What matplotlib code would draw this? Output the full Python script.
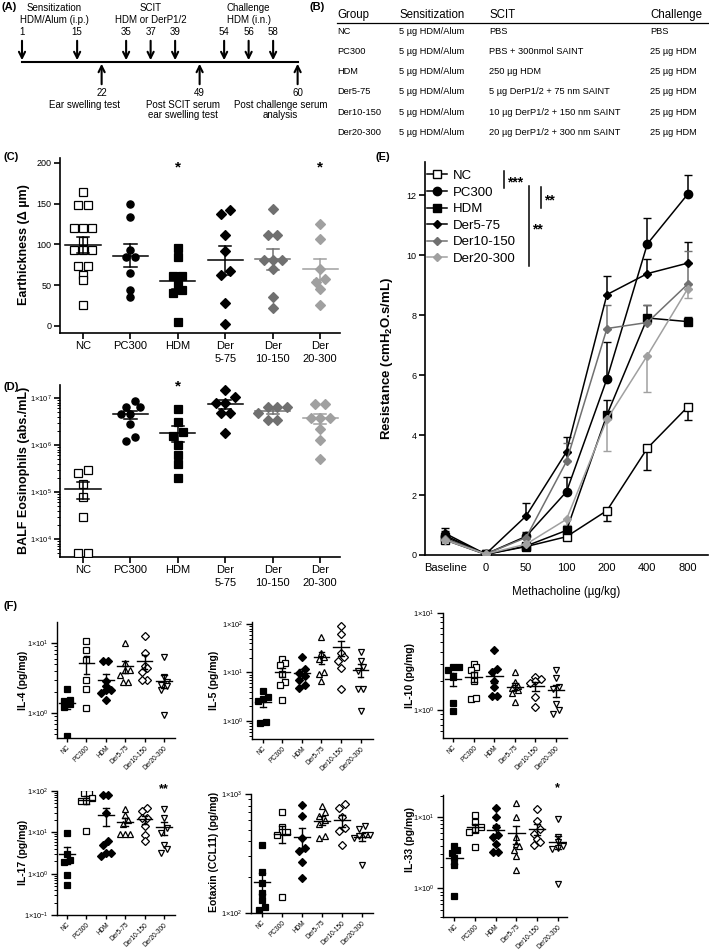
import numpy as np
import matplotlib
matplotlib.use('Agg')
import matplotlib.pyplot as plt
from matplotlib.ticker import LogLocator, FuncFormatter, NullFormatter
from matplotlib.lines import Line2D

plt.rcParams['font.family'] = ['Liberation Sans', 'DejaVu Sans']
plt.rcParams['mathtext.fontset'] = 'custom'
plt.rcParams['mathtext.rm'] = 'Liberation Sans'
plt.rcParams['mathtext.bf'] = 'Liberation Sans:bold'
plt.rcParams['mathtext.it'] = 'Liberation Sans:italic'

W, H = 709, 950

# ── data ────────────────────────────────────────────────────────────────────
days = [1, 15, 22, 35, 37, 39, 49, 54, 56, 58, 60]
dose_days = [1, 15, 35, 37, 39, 54, 56, 58]
test_days = [22, 49, 60]
phases = ['Sensitization\nHDM/Alum (i.p.)', 'SCIT\nHDM or DerP1/2', 'Challenge\nHDM (i.n.)']
phase_days = [[1, 15], [35, 37, 39], [54, 56, 58]]
tests = ['Ear swelling test', 'Post SCIT serum\near swelling test',
         'Post challenge serum\nanalysis']

table_cols = ['Group', 'Sensitization', 'SCIT', 'Challenge']
groups = ['NC', 'PC300', 'HDM', 'Der5-75', 'Der10-150', 'Der20-300']
sensitization = ['5 µg HDM/Alum'] * 6
scit = ['PBS', 'PBS + 300nmol SAINT', '250 µg HDM', '5 µg DerP1/2 + 75 nm SAINT',
        '10 µg DerP1/2 + 150 nm SAINT', '20 µg DerP1/2 + 300 nm SAINT']
challenge = ['PBS'] + ['25 µg HDM'] * 5

cd_labels = ['NC', 'PC300', 'HDM', 'Der\n5-75', 'Der\n10-150', 'Der\n20-300']

ear_thickness = [
    [164, 148, 148, 120, 120, 120, 104, 93, 93, 93, 74, 74, 63, 56, 26],
    [150, 134, 93, 85, 85, 65, 44, 35],
    [96, 85, 61, 61, 51, 44, 41, 5],
    [142, 137, 112, 92, 68, 63, 28, 2],
    [143, 112, 112, 81, 81, 81, 70, 35, 22],
    [125, 107, 70, 58, 54, 45, 26],
]
eosinophils = [
    [3e5, 2.5e5, 1.5e5, 8e4, 3e4, 5e3, 5e3],
    [8.5e6, 6.5e6, 6.3e6, 4.6e6, 4.6e6, 2.8e6, 1.5e6, 1.2e6],
    [5.8e6, 3.1e6, 1.9e6, 1.55e6, 1e6, 6e5, 4e5, 2e5],
    [1.5e7, 1.07e7, 7.7e6, 7.7e6, 4.8e6, 4.8e6, 1.8e6],
    [6.5e6, 6.5e6, 6.5e6, 4.9e6, 3.4e6, 3.4e6],
    [7.5e6, 7.5e6, 3.7e6, 3.7e6, 3.7e6, 2.2e6, 1.3e6, 5e5],
]

mch_doses = ['Baseline', '0', '50', '100', '200', '400', '800']
res_nc = [0.50, 0.02, 0.28, 0.61, 1.48, 3.56, 4.94]
res_pc300 = [0.65, 0.03, 0.62, 2.11, 5.87, 10.37, 12.03]
res_hdm = [0.60, 0.02, 0.30, 0.82, 4.67, 7.90, 7.78]
res_der5 = [0.72, 0.03, 1.30, 3.44, 8.68, 9.38, 9.73]
res_der10 = [0.55, 0.03, 0.58, 3.12, 7.55, 7.75, 9.03]
res_der20 = [0.50, 0.03, 0.36, 1.19, 4.52, 6.65, 8.88]
sem_nc = [0.10, 0.0, 0.05, 0.10, 0.33, 0.73, 0.44]
sem_pc300 = [0.15, 0.0, 0.15, 0.50, 1.24, 0.85, 0.63]
sem_hdm = [0.10, 0.0, 0.05, 0.15, 0.50, 0.45, 0.17]
sem_der5 = [0.17, 0.0, 0.44, 0.50, 0.63, 0.48, 0.71]
sem_der10 = [0.10, 0.0, 0.15, 0.60, 0.80, 0.58, 1.10]
sem_der20 = [0.10, 0.0, 0.10, 0.20, 1.06, 1.23, 0.30]

f_labels = ['NC', 'PC300', 'HDM', 'Der5-75', 'Der10-150', 'Der20-300']
il4 = [
    [2.2, 1.55, 1.5, 1.35, 1.2, 0.47],
    [10.7, 7.9, 5.7, 2.96, 2.18, 1.19],
    [5.5, 5.5, 2.9, 2.43, 2.13, 2.13, 1.91, 1.53],
    [10.1, 5.2, 4.1, 4.1, 3.5, 2.8, 2.8],
    [12.6, 7.1, 4.7, 4.35, 3.9, 2.96, 2.96],
    [6.3, 3.3, 2.8, 2.5, 2.4, 2.1, 0.94],
]
il5 = [
    [4.2, 3.2, 2.8, 2.6, 0.92, 0.95],
    [18.7, 15.5, 14, 9.3, 6.5, 5.5, 2.7],
    [20.5, 11.6, 9.9, 8.5, 7.0, 5.5, 4.7],
    [54.7, 24.8, 21, 18.7, 10.4, 9.3, 6.8],
    [90.8, 61.3, 24.8, 21, 17.3, 12.6, 4.5],
    [26.9, 17.5, 13.1, 10.9, 4.5, 4.5, 1.6],
]
il10 = [
    [2.8, 2.8, 2.6, 2.2, 1.17, 0.98],
    [3.0, 2.8, 2.6, 2.3, 2.0, 1.3, 1.32],
    [4.2, 2.65, 2.45, 1.97, 1.72, 1.4, 1.4],
    [2.45, 1.93, 1.75, 1.68, 1.62, 1.49, 1.22],
    [2.19, 2.09, 1.97, 1.9, 1.36, 1.08],
    [2.57, 2.14, 1.72, 1.65, 1.15, 1.0, 0.91],
]
il17 = [
    [9.7, 3.0, 2.2, 1.9, 0.95, 0.54],
    [90, 90, 68, 56, 56, 10.6],
    [81.5, 81.5, 29.4, 6.05, 5.0, 3.17, 3.17, 2.73],
    [36.9, 26.8, 20.3, 15.9, 9.1, 9.1, 9.1],
    [39, 33.5, 22.4, 22, 14, 8.8, 6.3],
    [37.5, 22.4, 12.8, 9.7, 5.0, 4.0, 3.17],
]
eotaxin = [
    [372, 222, 178, 146, 129, 113, 106],
    [702, 530, 482, 482, 452, 137],
    [809, 657, 429, 354, 331, 266, 198],
    [800, 700, 650, 600, 560, 440, 430],
    [818, 766, 644, 520, 488, 374],
    [538, 505, 452, 452, 440, 429, 253],
]
il33 = [
    [3.98, 3.5, 3.15, 2.65, 2.14, 0.78],
    [10.7, 8.5, 7.2, 6.65, 6.2, 3.85],
    [13.6, 9.9, 7.2, 5.6, 5.2, 4.2, 3.2, 3.2],
    [16, 9.9, 5.2, 4.2, 3.98, 3.5, 2.82, 1.84],
    [12.9, 8.9, 6.8, 5.8, 4.9, 4.5, 4.07],
    [9.4, 5.3, 4.5, 3.9, 3.7, 3.6, 1.16],
]

# ── helpers ─────────────────────────────────────────────────────────────────
fig = plt.figure(figsize=(W / 100, H / 100), dpi=100)


def px_axes(l, t, r, b):
    return fig.add_axes([l / W, 1 - b / H, (r - l) / W, (b - t) / H])


def style(ax, lw=1.2):
    for s in ['top', 'right']:
        ax.spines[s].set_visible(False)
    for s in ['left', 'bottom']:
        ax.spines[s].set_linewidth(lw)
    ax.tick_params(direction='out', length=4, width=lw, pad=2)
    ax.tick_params(which='minor', direction='out', length=2, width=0.7)
    ax.patch.set_alpha(0)


def spread(vals, tol, step, log=False):
    v = np.log10(vals) if log else np.asarray(vals, float)
    order = np.argsort(v)
    offs = np.zeros(len(v))
    i = 0
    while i < len(order):
        j = i
        while j + 1 < len(order) and v[order[j + 1]] - v[order[i]] < tol:
            j += 1
        n = j - i + 1
        offs[order[i:j + 1]] = (np.arange(n) - (n - 1) / 2) * step
        i = j + 1
    return offs


def dotplot(ax, data, styles, tol, step, log=False, ms=5, mw=0.37, cw=0.13, lw=1.1):
    for i, (vals, (mk, fc, ec, lc)) in enumerate(zip(data, styles)):
        vals = np.asarray(vals, float)
        x = i + spread(vals, tol, step, log)
        ax.plot(x, vals, ls='none', marker=mk, ms=ms, mfc=fc, mec=ec, mew=0.9, zorder=3)
        m = vals.mean()
        s = vals.std(ddof=1) / np.sqrt(len(vals))
        lo = max(m - s, m * 0.05)
        ax.plot([i - mw, i + mw], [m, m], color=lc, lw=lw, zorder=4)
        ax.plot([i, i], [lo, m + s], color=lc, lw=lw, zorder=4)
        ax.plot([i - cw, i + cw], [m + s] * 2, color=lc, lw=lw, zorder=4)
        ax.plot([i - cw, i + cw], [lo] * 2, color=lc, lw=lw, zorder=4)


def sci(v, _):
    return r'$1{\times}10^{%d}$' % round(np.log10(v))


def log_axis(ax, fs=5.5):
    ax.set_yscale('log')
    ax.yaxis.set_major_locator(LogLocator(base=10, numticks=20))
    ax.yaxis.set_minor_locator(LogLocator(base=10, subs=np.arange(2, 10), numticks=20))
    ax.yaxis.set_major_formatter(FuncFormatter(sci))
    ax.yaxis.set_minor_formatter(NullFormatter())
    ax.tick_params(axis='y', labelsize=fs)


# overlay in pixel coordinates for annotations
ov = fig.add_axes([0, 0, 1, 1], zorder=10)
ov.set_xlim(0, W)
ov.set_ylim(H, 0)
ov.axis('off')
ov.patch.set_alpha(0)


def label(x, y, s):
    ov.text(x, y, s, fontsize=8, fontweight='bold', ha='left', va='center')


# ── (A) timeline ────────────────────────────────────────────────────────────
label(1, 7, '(A)')
tx = {d: 22 + 24.5 * (0 if i == 0 else i + 1.25) for i, d in enumerate(days)}
ov.plot([tx[days[0]], tx[days[-1]]], [62, 62], color='k', lw=1.5)
for d in dose_days:
    ov.annotate('', xy=(tx[d], 63), xytext=(tx[d], 38),
                arrowprops=dict(arrowstyle='->', color='k', lw=1.5, mutation_scale=11))
    ov.text(tx[d], 32, str(d), fontsize=7, ha='center', va='center')
for d in test_days:
    ov.annotate('', xy=(tx[d], 61), xytext=(tx[d], 87),
                arrowprops=dict(arrowstyle='->', color='k', lw=1.5, mutation_scale=11))
    ov.text(tx[d], 93, str(d), fontsize=7, ha='center', va='center')
for name, pd_ in zip(phases, phase_days):
    cx = np.mean([tx[d] for d in pd_]) + (5 if pd_[0] == 1 else 0)
    ov.text(cx, 14, name, fontsize=7, ha='center', va='center', linespacing=1.25)
for name, d in zip(tests, test_days):
    ov.text(tx[d] - 17, 100, name, fontsize=7, ha='center', va='top', linespacing=1.05)

# ── (B) table ───────────────────────────────────────────────────────────────
label(309, 7, '(B)')
col_x = [337, 399, 489, 650]
for x, c in zip(col_x, table_cols):
    ov.text(x, 15, c, fontsize=8.3, ha='left', va='center')
ov.plot([337, 709], [23, 23], color='k', lw=0.9)
for r, row in enumerate(zip(groups, sensitization, scit, challenge)):
    y = 31 + r * 20.3
    for x, c in zip(col_x, row):
        ov.text(x, y, c, fontsize=6.7, ha='left', va='center')

# group styles for C/D: marker, face, edge, line
grey1, grey2 = '#707070', '#a0a0a0'
cd_styles = [('s', 'white', 'k', 'k'), ('o', 'k', 'k', 'k'), ('s', 'k', 'k', 'k'),
             ('D', 'k', 'k', 'k'), ('D', grey1, grey1, grey1), ('D', grey2, grey2, grey2)]
f_styles = [('s', 'k', 'k', 'k'), ('s', 'white', 'k', 'k'), ('D', 'k', 'k', 'k'),
            ('^', 'white', 'k', 'k'), ('D', 'white', 'k', 'k'), ('v', 'white', 'k', 'k')]

# ── (C) ear thickness ───────────────────────────────────────────────────────
label(3, 157, '(C)')
axc = px_axes(60, 158, 340, 333)
style(axc)
dotplot(axc, ear_thickness, cd_styles, tol=7, step=0.19, ms=5.2)
axc.set_ylim(-8.6, 206)
axc.set_xlim(-0.485, 5.42)
axc.set_yticks([0, 50, 100, 150, 200])
axc.set_xticks(range(6))
axc.set_xticklabels(cd_labels, fontsize=8, linespacing=1.3)
axc.tick_params(axis='y', labelsize=6.5)
axc.tick_params(axis='x', length=4)
for i in [2, 5]:
    axc.text(i, 195, '*', fontsize=11, ha='center', va='center', fontweight='bold')
ov.text(24, 245, 'Earthickness (Δ µm)', fontsize=9, fontweight='bold', rotation=90,
        ha='center', va='center')

# ── (D) BALF eosinophils ────────────────────────────────────────────────────
label(3, 387, '(D)')
axd = px_axes(60, 385, 340, 557)
style(axd)
log_axis(axd, fs=5.5)
dotplot(axd, eosinophils, cd_styles, tol=0.15, step=0.2, log=True, ms=5.2)
d_top = 10 ** (7 + 13 / 47)
d_bot = 10 ** (4 - 18 / 47)
axd.set_ylim(d_bot, d_top)
axd.set_xlim(-0.485, 5.42)
axd.set_xticks(range(6))
axd.set_xticklabels(cd_labels, fontsize=8, linespacing=1.3)
axd.text(2, 10 ** (7 + 12 / 47) * 0.98, '*', fontsize=11, ha='center', va='center',
         fontweight='bold')
ov.text(24, 470, 'BALF Eosinophils (abs./mL)', fontsize=9, fontweight='bold', rotation=90,
        ha='center', va='center')

# ── (E) airway resistance ───────────────────────────────────────────────────
label(375, 157, '(E)')
axe = px_axes(425, 162, 708, 555)
style(axe)
xe = np.arange(len(mch_doses))
series = [
    ('NC', res_nc, sem_nc, 's', 'white', 'k', 'down', 5.5),
    ('PC300', res_pc300, sem_pc300, 'o', 'k', 'k', 'up', 6),
    ('HDM', res_hdm, sem_hdm, 's', 'k', 'k', 'up', 5.5),
    ('Der5-75', res_der5, sem_der5, 'D', 'k', 'k', 'up', 4),
    ('Der10-150', res_der10, sem_der10, 'D', grey1, grey1, 'up', 4),
    ('Der20-300', res_der20, sem_der20, 'D', grey2, grey2, 'down', 4),
]
handles = []
for name, m, s, mk, fc, ec, side, ms in series:
    s = np.asarray(s)
    z = np.zeros_like(s)
    yerr = [s, z] if side == 'down' else [z, s]
    col = ec
    axe.errorbar(xe, m, yerr=yerr, color=col, lw=1.1, marker=mk, ms=ms, mfc=fc, mec=col,
                 mew=1.0, capsize=3, capthick=1.1, elinewidth=1.1, zorder=3)
    handles.append(Line2D([], [], color=col, lw=1.1, marker=mk, ms=ms, mfc=fc, mec=col,
                          mew=1.0, label=name))
axe.set_xlim(-0.5, 6.5)
axe.set_ylim(0, 13.1)
axe.set_yticks([0, 2, 4, 6, 8, 10, 12])
axe.set_xticks(xe)
axe.set_xticklabels(mch_doses, fontsize=8)
axe.tick_params(axis='y', labelsize=6.5)
axe.tick_params(axis='x', length=0, pad=6)
axe.set_xlabel('Methacholine (µg/kg)', fontsize=8.3, labelpad=9)
axe.legend(handles=handles, loc='upper left', bbox_to_anchor=(0.0, 0.985), frameon=False,
           fontsize=9.5, handlelength=1.5, handletextpad=0.5, labelspacing=0.33,
           borderaxespad=0, borderpad=0.15)
ov.text(387, 358, r'Resistance (cmH$_\mathbf{2}$O.s/mL)', fontsize=9.5, fontweight='bold',
        rotation=90, ha='center', va='center')
for x, y0, y1, stars in [(504, 171, 188, '***'), (541, 187, 208, '**'), (529, 186, 266, '**')]:
    ov.plot([x, x], [y0, y1], color='k', lw=1.1)
    ov.text(x + 3, (y0 + y1) / 2 + 3, stars, fontsize=10, fontweight='bold', ha='left',
            va='center')

# ── (F) cytokines ───────────────────────────────────────────────────────────
label(3, 606, '(F)')
f_panels = [
    (il4, 'IL-4 (pg/mg)', (57, 622, 175, 738), (-0.357, 1.3), (-0.52, 5.57), 23, 680),
    (il5, 'IL-5 (pg/mg)', (252, 622, 373, 739), (-0.37, 2.04), (-0.56, 5.64), 214, 680),
    (il10, 'IL-10 (pg/mg)', (443, 613, 567, 738), (-0.29, 1.0), (-0.49, 5.53), 410, 675),
    (il17, 'IL-17 (pg/mg)', (57, 791, 175, 915), (-1.0, 2.0), (-0.52, 5.57), 23, 852),
    (eotaxin, 'Eotaxin (CCL11) (pg/mg)', (251, 794, 373, 913), (2.0, 3.0), (-0.55, 5.55), 214, 852),
    (il33, 'IL-33 (pg/mg)', (443, 795, 567, 917), (-0.4, 1.31), (-0.55, 5.45), 410, 840),
]
f_axes = []
for data, ylab, box, ylog, xl, lx, ly in f_panels:
    ax = px_axes(*box)
    style(ax, lw=1.0)
    log_axis(ax, fs=5.3)
    dec_px = (box[3] - box[1]) / (ylog[1] - ylog[0])
    dotplot(ax, data, f_styles, tol=5 / dec_px, step=0.27, log=True, ms=3.8, mw=0.4,
            cw=0.15, lw=1.0)
    ax.set_ylim(10 ** ylog[0], 10 ** ylog[1])
    ax.set_xlim(*xl)
    ax.set_xticks(range(6))
    ax.set_xticklabels(f_labels, rotation=45, ha='right', rotation_mode='anchor', fontsize=4.7)
    ax.tick_params(axis='x', length=3, pad=1.5)
    ov.text(lx, ly, ylab, fontsize=7.5, fontweight='bold', rotation=90, ha='center',
            va='center')
    f_axes.append(ax)
f_axes[3].text(5, 10 ** 2.05, '**', fontsize=9, fontweight='bold', ha='center', va='center')
f_axes[5].text(5, 10 ** 1.4, '*', fontsize=9, fontweight='bold', ha='center', va='center')

fig.savefig('out.png', dpi=100)
